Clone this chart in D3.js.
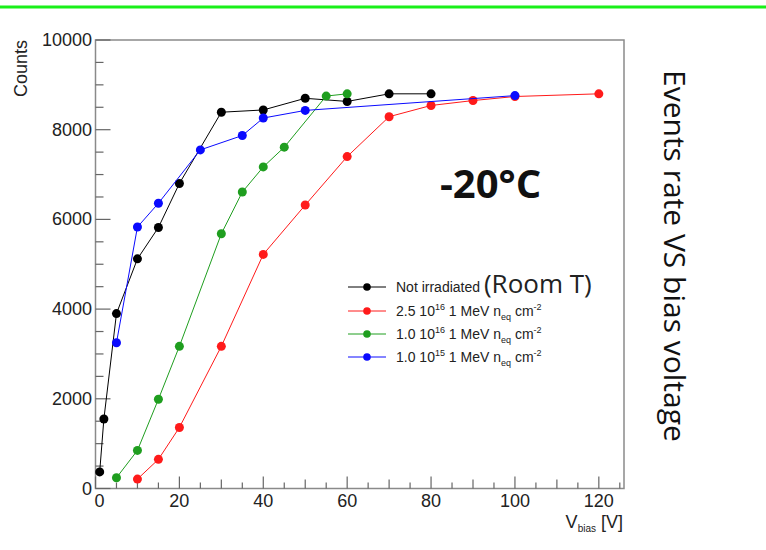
<!DOCTYPE html>
<html>
<head>
<meta charset="utf-8">
<script src="https://cdn.jsdelivr.net/npm/d3@7"></script>
<style>
  body { margin: 0; background: #fff; }
  svg { display: block; }
  .tick-label { font-family: "Liberation Sans", Arial, sans-serif; font-size: 18px; fill: #222; }
  .leg-text { font-family: "Liberation Sans", Arial, sans-serif; font-size: 14px; fill: #222; }
  .big-text { font-family: "Open Sans", sans-serif; fill: #111; }
</style>
</head>
<body>
<svg id="chart" width="766" height="550"></svg>
<script>
// --- Data ---
const voltsBlack  = [1, 2, 5, 10, 15, 20, 30, 40, 50, 60, 70, 80];
const countsBlack = [370, 1550, 3900, 5120, 5820, 6800, 8390, 8440, 8700, 8630, 8800, 8800];

const voltsRed  = [10, 15, 20, 30, 40, 50, 60, 70, 80, 90, 100, 120];
const countsRed = [210, 650, 1360, 3170, 5220, 6320, 7400, 8290, 8540, 8650, 8740, 8800];

const voltsGreen  = [5, 10, 15, 20, 30, 35, 40, 45, 55, 60];
const countsGreen = [240, 850, 1990, 3170, 5680, 6610, 7170, 7610, 8750, 8800];

const voltsBlue  = [5, 10, 15, 25, 35, 40, 50, 100];
const countsBlue = [3250, 5830, 6360, 7550, 7870, 8260, 8430, 8760];

const xTicks = [0, 20, 40, 60, 80, 100, 120];
const yTicks = [0, 2000, 4000, 6000, 8000, 10000];

// series drawn in this order (blue last, on top)
const series = [
    { name: "black", x: voltsBlack, y: countsBlack, color: "#000000" },
    { name: "red",   x: voltsRed,   y: countsRed,   color: "#ff1a1a" },
    { name: "green", x: voltsGreen, y: countsGreen, color: "#1f9e1f" },
    { name: "blue",  x: voltsBlue,  y: countsBlue,  color: "#0a0aff" }
];

const svg = d3.select("#chart");

// --- green strip at the top ---
svg.append("line")
    .attr("x1", 0).attr("x2", 766)
    .attr("y1", 7).attr("y2", 7)
    .attr("stroke", "#19f019")
    .attr("stroke-width", 3);

// --- Scales ---
const plotL = 95.5, plotR = 624, plotT = 40, plotB = 488.5;
const x = d3.scaleLinear().domain([0, 126]).range([plotL, plotR]);
const y = d3.scaleLinear().domain([0, 10000]).range([plotB, plotT]);

// --- Frame ---
svg.append("rect")
    .attr("x", plotL).attr("y", plotT)
    .attr("width", plotR - plotL).attr("height", plotB - plotT)
    .attr("fill", "none")
    .attr("stroke", "#8a8a8a")
    .attr("stroke-width", 1.5);

// --- X axis ticks (every 5, longer at 10 and 20) ---
const axisColor = "#666";
const xAll = d3.range(0, 126, 5);
svg.append("g").selectAll("line")
    .data(xAll)
    .enter().append("line")
    .attr("x1", d => x(d)).attr("x2", d => x(d))
    .attr("y1", plotB)
    .attr("y2", d => plotB - (d % 20 === 0 ? 12 : d % 10 === 0 ? 9 : 6))
    .attr("stroke", axisColor)
    .attr("stroke-width", 1.2);

svg.append("g").selectAll("text")
    .data(xTicks)
    .enter().append("text")
    .attr("class", "tick-label")
    .attr("x", d => x(d) + (d === 0 ? 4 : 0))
    .attr("y", 507)
    .attr("text-anchor", "middle")
    .text(d => d);

// --- Y axis ticks (every 500, longer at 2000) ---
const yAll = d3.range(0, 10001, 500);
svg.append("g").selectAll("line")
    .data(yAll)
    .enter().append("line")
    .attr("x1", plotL)
    .attr("x2", d => plotL + (d % 2000 === 0 ? 15 : 8))
    .attr("y1", d => y(d)).attr("y2", d => y(d))
    .attr("stroke", axisColor)
    .attr("stroke-width", 1.2);

svg.append("g").selectAll("text")
    .data(yTicks)
    .enter().append("text")
    .attr("class", "tick-label")
    .attr("x", 92)
    .attr("y", d => y(d) + 6)
    .attr("text-anchor", "end")
    .text(d => d);

// --- Axis titles ---
svg.append("text")
    .attr("class", "tick-label")
    .attr("transform", "translate(27,40) rotate(-90)")
    .attr("text-anchor", "end")
    .text("Counts");

const xTitle = svg.append("text")
    .attr("class", "tick-label")
    .attr("x", 623).attr("y", 528)
    .attr("text-anchor", "end");
xTitle.append("tspan").text("V");
xTitle.append("tspan").attr("font-size", "10px").attr("dy", 4).text("bias");
xTitle.append("tspan").attr("dy", -4).text(" [V]");

// --- Lines and markers ---
const line = d3.line().x(d => x(d[0])).y(d => y(d[1]));

series.forEach(s => {
    const pts = s.x.map((v, i) => [v, s.y[i]]);
    const g = svg.append("g").attr("class", "series-" + s.name);
    g.append("path")
        .datum(pts)
        .attr("d", line)
        .attr("fill", "none")
        .attr("stroke", s.color)
        .attr("stroke-width", 1);
    g.selectAll("circle")
        .data(pts)
        .enter().append("circle")
        .attr("cx", d => x(d[0]))
        .attr("cy", d => y(d[1]))
        .attr("r", 4.5)
        .attr("fill", s.color);
});

// --- Legend ---
const legendRows = [
    { color: "#000000", label: "not" },
    { color: "#ff1a1a", label: ["2.5 10", "16"] },
    { color: "#1f9e1f", label: ["1.0 10", "16"] },
    { color: "#0a0aff", label: ["1.0 10", "15"] }
];
const legendY = [287, 311, 334, 357];

const legend = svg.append("g").attr("class", "legend");
legendRows.forEach((r, i) => {
    const cy = legendY[i];
    legend.append("line")
        .attr("x1", 348).attr("x2", 386)
        .attr("y1", cy).attr("y2", cy)
        .attr("stroke", r.color).attr("stroke-width", 1);
    legend.append("circle")
        .attr("cx", 367).attr("cy", cy).attr("r", 3.8)
        .attr("fill", r.color);

    const t = legend.append("text")
        .attr("class", "leg-text")
        .attr("x", 396).attr("y", cy + 5);
    if (r.label === "not") {
        t.append("tspan").text("Not irradiated ");
        t.append("tspan")
            .attr("font-family", "Open Sans, sans-serif")
            .attr("font-size", "26px")
            .attr("dy", 1)
            .text("(Room T)");
    } else {
        t.append("tspan").text(r.label[0]);
        t.append("tspan").attr("font-size", "9px").attr("dy", -6).text(r.label[1]);
        t.append("tspan").attr("dy", 6).text(" 1 MeV n");
        t.append("tspan").attr("font-size", "9px").attr("dy", 4).text("eq");
        t.append("tspan").attr("dy", -4).text(" cm");
        t.append("tspan").attr("font-size", "9px").attr("dy", -6).text("-2");
    }
});

// --- Annotations ---
svg.append("text")
    .attr("class", "big-text")
    .attr("x", 440).attr("y", 198)
    .attr("font-size", "40px")
    .attr("font-weight", "bold")
    .text("-20°C");

svg.append("text")
    .attr("class", "big-text")
    .attr("transform", "translate(664,70) rotate(90)")
    .attr("font-size", "30px")
    .text("Events rate VS bias voltage");
</script>
</body>
</html>
